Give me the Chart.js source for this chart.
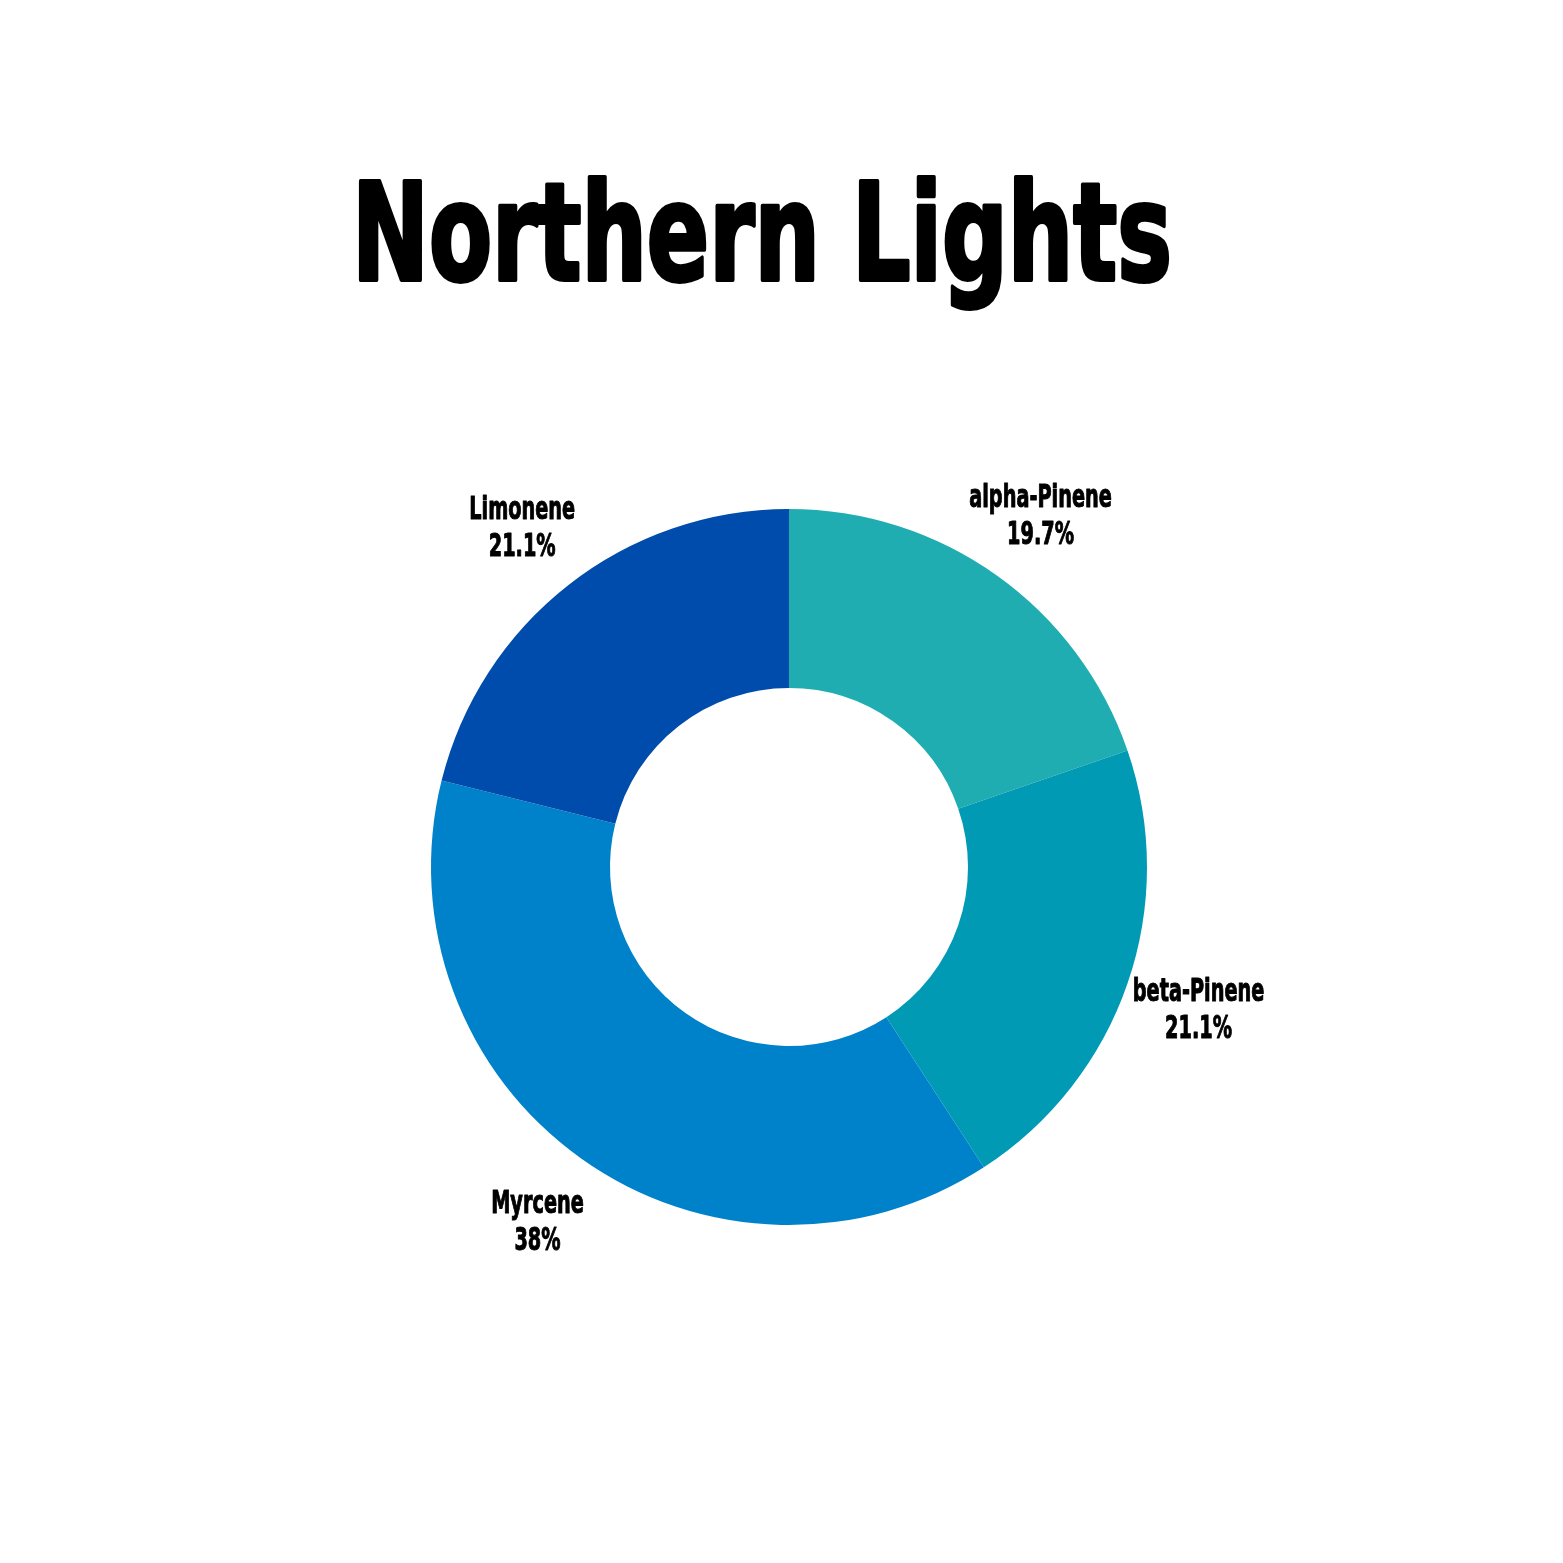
<!DOCTYPE html>
<html>
<head>
<meta charset="utf-8">
<script src="https://cdn.jsdelivr.net/npm/chart.js@4"></script>
<style>
  body { margin: 0; background: #fff; }
  #wrap { width: 1563px; height: 1563px; position: relative; }
</style>
</head>
<body>
<div id="wrap"><canvas id="terpene-chart"></canvas></div>
<script>
const ctx = document.getElementById('terpene-chart');

// terpene profile, clockwise from the top
const labels = ['alpha-Pinene', 'beta-Pinene', 'Myrcene', 'Limonene'];
const percents = [19.7, 21.1, 38, 21.1];
const colors = ['#20adb1', '#009ab5', '#0082cb', '#004cac'];
const chartTitle = 'Northern Lights';

// draw text squeezed to look like a condensed display face
function squeezed(c, text, x, y, font, squeeze, heavy) {
    c.save();
    c.font = font;
    c.translate(x, y);
    c.scale(squeeze, 1);
    if (heavy) {
        c.lineWidth = heavy;
        c.lineJoin = 'round';
        c.strokeStyle = '#000';
        c.strokeText(text, 0, 0);
    }
    c.fillText(text, 0, 0);
    c.restore();
}

const outsideLabels = {
    id: 'outsideLabels',
    afterDraw(chart) {
        const c = chart.ctx;
        c.save();
        c.fillStyle = '#000';
        c.textAlign = 'center';
        c.textBaseline = 'alphabetic';

        // title
        c.font = 'bold 136px "DejaVu Sans Condensed", "DejaVu Sans"';
        const tw = c.measureText(chartTitle).width;
        squeezed(c, chartTitle, 762, 280, c.font, 820 / tw, 4);

        // slice labels, two lines each, outside the ring
        const meta = chart.getDatasetMeta(0);
        meta.data.forEach((arc, i) => {
            const p = arc.getProps(['x', 'y', 'startAngle', 'endAngle', 'outerRadius'], true);
            const mid = (p.startAngle + p.endAngle) / 2;
            const r = p.outerRadius * 1.21;
            const x = p.x + Math.cos(mid) * r;
            const y = p.y + Math.sin(mid) * r;
            const font = 'bold 32px "DejaVu Sans Condensed", "DejaVu Sans"';
            squeezed(c, labels[i], x, y - 7, font, 0.67, 1);
            squeezed(c, percents[i] + '%', x, y + 30, font, 0.67, 1);
        });
        c.restore();
    }
};

const data = {
    labels: labels,
    datasets: [
      {
        data: percents,
        backgroundColor: colors,
        borderWidth: 0
      }
    ]
};

const config = {
    type: 'doughnut',
    data: data,
    options: {
      responsive: true,
      maintainAspectRatio: false,
      animation: false,
      cutout: '50%',
      layout: {
        padding: { left: 431, right: 416, top: 509, bottom: 338 }
      },
      plugins: {
        legend: { display: false },
        tooltip: { enabled: false },
        title: { display: false }
      }
    },
    plugins: [outsideLabels]
};

new Chart(ctx, config);
</script>
</body>
</html>
